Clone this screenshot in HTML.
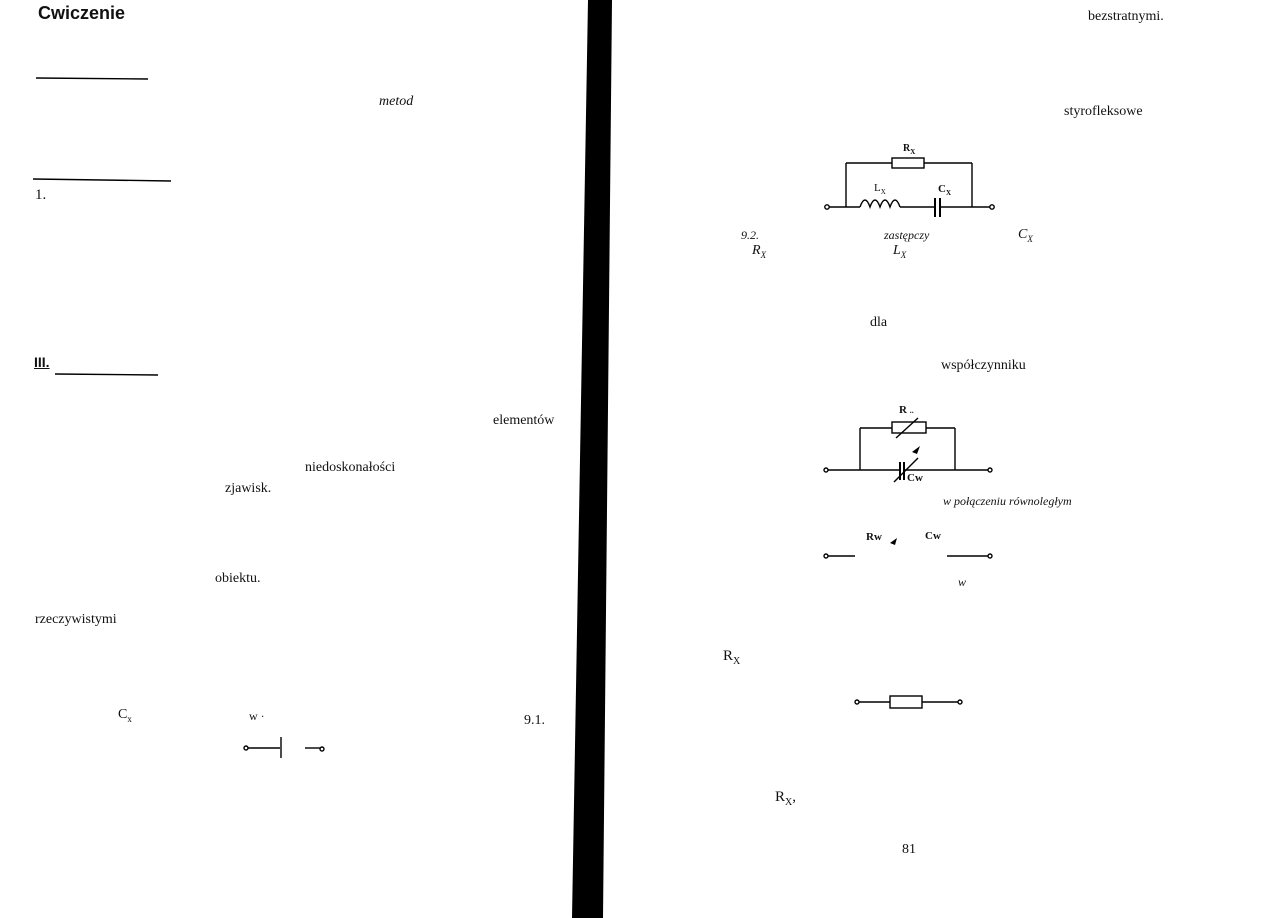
<!DOCTYPE html>
<html><head><meta charset="utf-8"><style>
html,body{margin:0;padding:0;background:#fff;}
body{width:1263px;height:918px;position:relative;overflow:hidden;font-family:"Liberation Serif",serif;color:#111;}
.t{position:absolute;font-size:14px;white-space:nowrap;line-height:1;}
.i{font-style:italic;}
svg{position:absolute;left:0;top:0;}
</style></head><body>
<svg width="1263" height="918" viewBox="0 0 1263 918">
<polygon points="588,0 612,0 603,918 572,918" fill="#000"/>
<g stroke="#000" stroke-width="1.4" fill="none">
<line x1="36" y1="78" x2="148" y2="79"/>
<line x1="33" y1="179" x2="171" y2="181"/>
<line x1="55" y1="374" x2="158" y2="375"/>
<!-- circuit 1 -->
<circle cx="827" cy="207" r="2.2" fill="#fff"/>
<line x1="829" y1="207" x2="860" y2="207"/>
<line x1="846" y1="207" x2="846" y2="163"/>
<line x1="846" y1="163" x2="892" y2="163"/>
<rect x="892" y="158" width="32" height="10"/>
<line x1="924" y1="163" x2="972" y2="163"/>
<line x1="972" y1="163" x2="972" y2="207"/>
<path d="M860,207 q5,-14 10,0 q5,-14 10,0 q5,-14 10,0 q5,-14 10,0"/>
<line x1="900" y1="207" x2="935" y2="207"/>
<line x1="935" y1="198" x2="935" y2="217" stroke-width="2"/>
<line x1="940" y1="198" x2="940" y2="217" stroke-width="2"/>
<line x1="940" y1="207" x2="990" y2="207"/>
<circle cx="992" cy="207" r="2.2" fill="#fff"/>
<!-- circuit 2 -->
<circle cx="826" cy="470" r="2" fill="#fff"/>
<line x1="828" y1="470" x2="900" y2="470"/>
<line x1="860" y1="470" x2="860" y2="428"/>
<line x1="860" y1="428" x2="892" y2="428"/>
<rect x="892" y="422" width="34" height="11"/>
<line x1="896" y1="438" x2="918" y2="418"/>
<line x1="926" y1="428" x2="955" y2="428"/>
<line x1="955" y1="428" x2="955" y2="470"/>
<line x1="900" y1="462" x2="900" y2="480" stroke-width="2"/>
<line x1="904" y1="462" x2="904" y2="480" stroke-width="2"/>
<line x1="894" y1="482" x2="918" y2="458"/>
<line x1="904" y1="470" x2="988" y2="470"/>
<circle cx="990" cy="470" r="2" fill="#fff"/>
<!-- circuit 3 -->
<circle cx="826" cy="556" r="2" fill="#fff"/>
<line x1="828" y1="556" x2="855" y2="556"/>
<line x1="947" y1="556" x2="988" y2="556"/>
<circle cx="990" cy="556" r="2" fill="#fff"/>
<!-- circuit 4 -->
<circle cx="857" cy="702" r="2" fill="#fff"/>
<line x1="859" y1="702" x2="890" y2="702"/>
<rect x="890" y="696" width="32" height="12"/>
<line x1="922" y1="702" x2="958" y2="702"/>
<circle cx="960" cy="702" r="2" fill="#fff"/>
<!-- left small -->
<circle cx="246" cy="748" r="2" fill="#fff"/>
<line x1="248" y1="748" x2="280" y2="748"/>
<line x1="281" y1="737" x2="281" y2="758"/>
<line x1="305" y1="748" x2="320" y2="748"/>
<circle cx="322" cy="749" r="2" fill="#fff"/>
</g>
<path d="M912,452 l8,-6 l-3,8 z" fill="#000"/>
<path d="M890,543 l7,-5 l-2,7 z" fill="#000"/>
</svg>
<div class="t" style="left:38px;top:4px;font-family:'Liberation Sans',sans-serif;font-weight:bold;font-size:18px;">Cwiczenie</div>
<div class="t" style="left:35px;top:188px;font-size:15px;">1.</div>
<div class="t" style="left:34px;top:355px;font-family:'Liberation Sans',sans-serif;font-weight:bold;font-size:14px;text-decoration:underline;">III.</div>
<div class="t i" style="left:379px;top:95px;">metod</div>
<div class="t" style="left:493px;top:414px;">elementów</div>
<div class="t" style="left:305px;top:461px;">niedoskonałości</div>
<div class="t" style="left:225px;top:482px;">zjawisk.</div>
<div class="t" style="left:215px;top:572px;">obiektu.</div>
<div class="t" style="left:35px;top:613px;">rzeczywistymi</div>
<div class="t" style="left:118px;top:708px;">C<sub style="font-size:9px">x</sub></div>
<div class="t" style="left:249px;top:710px;font-size:12px;">w ·</div>
<div class="t" style="left:524px;top:714px;">9.1.</div>
<div class="t" style="left:1088px;top:10px;">bezstratnymi.</div>
<div class="t" style="left:1064px;top:105px;">styrofleksowe</div>
<div class="t" style="left:903px;top:144px;font-size:10px;font-weight:bold;">R<sub style="font-size:7px">X</sub></div>
<div class="t" style="left:874px;top:183px;font-size:11px;">L<sub style="font-size:7px">X</sub></div>
<div class="t" style="left:938px;top:184px;font-size:11px;font-weight:bold;">C<sub style="font-size:7px">X</sub></div>
<div class="t i" style="left:741px;top:229px;font-size:12px;">9.2.</div>
<div class="t i" style="left:752px;top:244px;">R<sub style="font-size:9px">X</sub></div>
<div class="t i" style="left:884px;top:229px;font-size:12px;">zastępczy</div>
<div class="t i" style="left:893px;top:244px;">L<sub style="font-size:9px">X</sub></div>
<div class="t i" style="left:1018px;top:228px;">C<sub style="font-size:9px">X</sub></div>
<div class="t" style="left:870px;top:316px;">dla</div>
<div class="t" style="left:941px;top:359px;">współczynniku</div>
<div class="t" style="left:899px;top:405px;font-size:11px;font-weight:bold;">R <span style="font-size:8px">..</span></div>
<div class="t" style="left:907px;top:473px;font-size:11px;font-weight:bold;">Cw</div>
<div class="t i" style="left:943px;top:495px;font-size:12px;">w połączeniu równoległym</div>
<div class="t" style="left:866px;top:532px;font-size:11px;font-weight:bold;">Rw</div>
<div class="t" style="left:925px;top:531px;font-size:11px;font-weight:bold;">Cw</div>
<div class="t i" style="left:958px;top:576px;font-size:12px;">w</div>
<div class="t" style="left:723px;top:649px;font-size:15px;">R<sub style="font-size:10px">X</sub></div>
<div class="t" style="left:775px;top:790px;font-size:15px;">R<sub style="font-size:10px">X</sub>,</div>
<div class="t" style="left:902px;top:843px;">81</div>
</body></html>
